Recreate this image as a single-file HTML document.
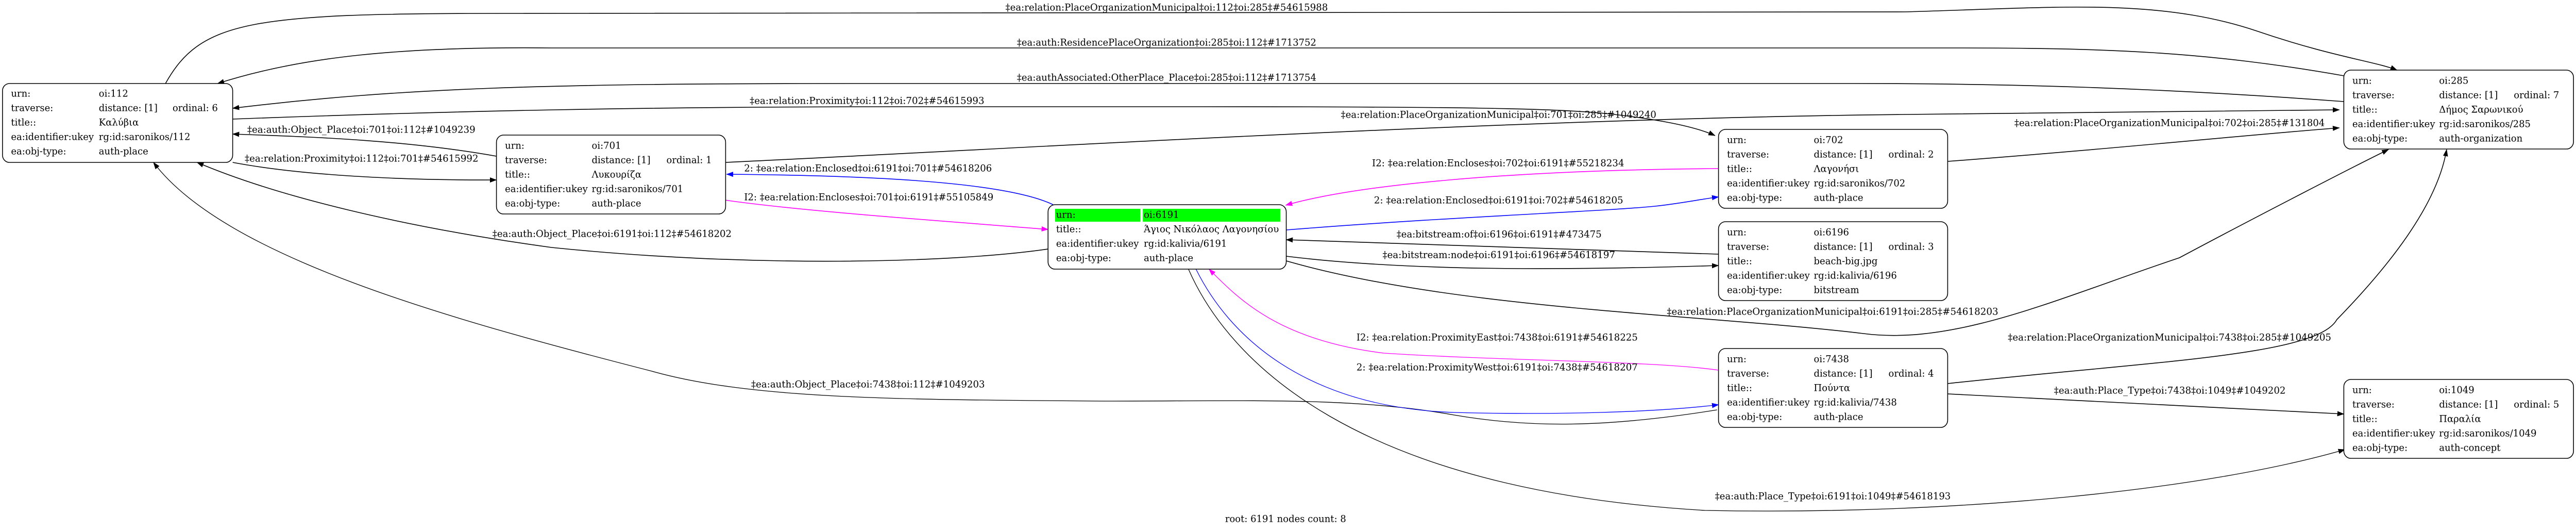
<!DOCTYPE html>
<html><head><meta charset="utf-8"><style>
html,body{margin:0;padding:0;background:#fff;overflow:hidden;width:100%;height:100%;}
svg{display:block;width:100vw;height:100vh;}
text{font-family:"DejaVu Serif","Liberation Serif",serif;font-size:18.5px;fill:#000;}
</style></head><body>
<svg viewBox="0 0 5137 1028" preserveAspectRatio="none" xmlns="http://www.w3.org/2000/svg">
<defs>
<marker id="ak" markerWidth="14" markerHeight="10" refX="13" refY="5" orient="auto" markerUnits="userSpaceOnUse"><path d="M0,0 L14,5 L0,10 z" fill="#000"/></marker>
<marker id="ab" markerWidth="14" markerHeight="10" refX="13" refY="5" orient="auto" markerUnits="userSpaceOnUse"><path d="M0,0 L14,5 L0,10 z" fill="#00f"/></marker>
<marker id="am" markerWidth="14" markerHeight="10" refX="13" refY="5" orient="auto" markerUnits="userSpaceOnUse"><path d="M0,0 L14,5 L0,10 z" fill="#f0f"/></marker>
</defs>
<g fill="none" stroke-width="1.6">
<path d="M330,162 C400,40 500,26 1000,26 L3800,23 C4100,15 4300,-5 4500,60 C4650,110 4740,120 4780,136" stroke="#000" marker-end="url(#ak)"/>
<path d="M4674,147 C4400,100 4200,93 3900,93 L1100,93 C800,90 600,110 434,162" stroke="#000" marker-end="url(#ak)"/>
<path d="M4674,197 C4300,170 4000,162 3700,162 L1700,162 C1100,162 800,170 464,210" stroke="#000" marker-end="url(#ak)"/>
<path d="M464,231 C900,215 1300,207 1800,207 L2400,207 C2900,207 3100,210 3200,220 C3300,230 3380,245 3420,263" stroke="#000" marker-end="url(#ak)"/>
<path d="M1447,315 C2000,290 3000,230 3800,222 L4665,213" stroke="#000" marker-end="url(#ak)"/>
<path d="M990,303 C800,270 600,265 464,260" stroke="#000" marker-end="url(#ak)"/>
<path d="M464,315 C600,340 800,350 990,349" stroke="#000" marker-end="url(#ak)"/>
<path d="M2100,397 C2000,350 1700,340 1449,338" stroke="#00f" marker-end="url(#ab)"/>
<path d="M1445,388 C1600,410 1900,430 2090,445" stroke="#f0f" marker-end="url(#am)"/>
<path d="M2090,483 C1900,510 1500,520 1100,480 C800,440 550,380 393,315" stroke="#000" marker-end="url(#ak)"/>
<path d="M3424,795 C3200,830 3050,830 2900,805 C2700,770 2500,778 2200,778 C1800,775 1500,775 1300,720 C900,620 450,500 306,315" stroke="#000" stroke-width="1.3" marker-end="url(#ak)"/>
<path d="M2385,522 C2450,650 2600,790 2900,800 C3100,805 3300,800 3427,785" stroke="#00f" stroke-width="1.3" marker-end="url(#ab)"/>
<path d="M3427,718 C3300,700 3000,700 2760,685 C2550,660 2470,580 2411,522" stroke="#f0f" stroke-width="1.3" marker-end="url(#am)"/>
<path d="M2370,522 C2450,700 2700,950 3400,990 C3900,1000 4400,950 4676,872" stroke="#000" stroke-width="1.3" marker-end="url(#ak)"/>
<path d="M2565,506 C2900,600 3400,610 3716,647 C3900,670 4100,580 4346,500 C4500,420 4700,320 4763,290" stroke="#000" marker-end="url(#ak)"/>
<path d="M3884,744 C4300,700 4620,690 4660,620 C4760,520 4860,400 4879,290" stroke="#000" marker-end="url(#ak)"/>
<path d="M3884,764 L4674,803" stroke="#000" marker-end="url(#ak)"/>
<path d="M3427,493 L2565,465" stroke="#000" marker-end="url(#ak)"/>
<path d="M2565,497 C2800,525 3100,525 3427,515" stroke="#000" marker-end="url(#ak)"/>
<path d="M3427,327 C3000,330 2700,360 2564,398" stroke="#f0f" marker-end="url(#am)"/>
<path d="M2565,446 C2900,420 3200,410 3300,400 C3350,395 3400,385 3427,382" stroke="#00f" marker-end="url(#ab)"/>
<path d="M3884,313 C4200,290 4500,260 4665,248" stroke="#000" marker-end="url(#ak)"/>
</g>
<g dominant-baseline="central">
<text x="2005" y="15" textLength="643" lengthAdjust="spacingAndGlyphs">‡ea:relation:PlaceOrganizationMunicipal‡oi:112‡oi:285‡#54615988</text>
<text x="2028" y="83" textLength="597" lengthAdjust="spacingAndGlyphs">‡ea:auth:ResidencePlaceOrganization‡oi:285‡oi:112‡#1713752</text>
<text x="2028" y="151" textLength="597" lengthAdjust="spacingAndGlyphs">‡ea:authAssociated:OtherPlace_Place‡oi:285‡oi:112‡#1713754</text>
<text x="1495" y="196" textLength="468" lengthAdjust="spacingAndGlyphs">‡ea:relation:Proximity‡oi:112‡oi:702‡#54615993</text>
<text x="2674" y="223" textLength="629" lengthAdjust="spacingAndGlyphs">‡ea:relation:PlaceOrganizationMunicipal‡oi:701‡oi:285‡#1049240</text>
<text x="493" y="252" textLength="455" lengthAdjust="spacingAndGlyphs">‡ea:auth:Object_Place‡oi:701‡oi:112‡#1049239</text>
<text x="488" y="308" textLength="466" lengthAdjust="spacingAndGlyphs">‡ea:relation:Proximity‡oi:112‡oi:701‡#54615992</text>
<text x="1484" y="327" textLength="494" lengthAdjust="spacingAndGlyphs">2: ‡ea:relation:Enclosed‡oi:6191‡oi:701‡#54618206</text>
<text x="1484" y="383" textLength="497" lengthAdjust="spacingAndGlyphs">I2: ‡ea:relation:Encloses‡oi:701‡oi:6191‡#55105849</text>
<text x="982" y="454" textLength="477" lengthAdjust="spacingAndGlyphs">‡ea:auth:Object_Place‡oi:6191‡oi:112‡#54618202</text>
<text x="1498" y="746" textLength="466" lengthAdjust="spacingAndGlyphs">‡ea:auth:Object_Place‡oi:7438‡oi:112‡#1049203</text>
<text x="2736" y="317" textLength="503" lengthAdjust="spacingAndGlyphs">I2: ‡ea:relation:Encloses‡oi:702‡oi:6191‡#55218234</text>
<text x="2740" y="389" textLength="497" lengthAdjust="spacingAndGlyphs">2: ‡ea:relation:Enclosed‡oi:6191‡oi:702‡#54618205</text>
<text x="2785" y="455" textLength="409" lengthAdjust="spacingAndGlyphs">‡ea:bitstream:of‡oi:6196‡oi:6191‡#473475</text>
<text x="2757" y="495" textLength="464" lengthAdjust="spacingAndGlyphs">‡ea:bitstream:node‡oi:6191‡oi:6196‡#54618197</text>
<text x="3324" y="605" textLength="661" lengthAdjust="spacingAndGlyphs">‡ea:relation:PlaceOrganizationMunicipal‡oi:6191‡oi:285‡#54618203</text>
<text x="2705" y="655" textLength="561" lengthAdjust="spacingAndGlyphs">I2: ‡ea:relation:ProximityEast‡oi:7438‡oi:6191‡#54618225</text>
<text x="2705" y="713" textLength="561" lengthAdjust="spacingAndGlyphs">2: ‡ea:relation:ProximityWest‡oi:6191‡oi:7438‡#54618207</text>
<text x="4004" y="655" textLength="645" lengthAdjust="spacingAndGlyphs">‡ea:relation:PlaceOrganizationMunicipal‡oi:7438‡oi:285‡#1049205</text>
<text x="4096" y="758" textLength="462" lengthAdjust="spacingAndGlyphs">‡ea:auth:Place_Type‡oi:7438‡oi:1049‡#1049202</text>
<text x="3420" y="963" textLength="470" lengthAdjust="spacingAndGlyphs">‡ea:auth:Place_Type‡oi:6191‡oi:1049‡#54618193</text>
<text x="4017" y="239" textLength="619" lengthAdjust="spacingAndGlyphs">‡ea:relation:PlaceOrganizationMunicipal‡oi:702‡oi:285‡#131804</text>
<text x="2443" y="1007">root: 6191 nodes count: 8</text>
</g>
<g fill="#fff" stroke="#000" stroke-width="1.6">
<rect x="5" y="162" width="459" height="153" rx="14"/>
<rect x="990" y="262" width="457" height="153" rx="14"/>
<rect x="2090" y="397" width="475" height="125" rx="14"/>
<rect x="3427" y="251" width="457" height="153" rx="14"/>
<rect x="3427" y="430" width="457" height="153" rx="14"/>
<rect x="3427" y="676" width="457" height="153" rx="14"/>
<rect x="4674" y="136" width="458" height="153" rx="14"/>
<rect x="4674" y="736" width="458" height="153" rx="14"/>
</g>
<rect x="2104" y="405" width="170" height="25" fill="#00ff00"/>
<rect x="2279" y="405" width="274" height="25" fill="#00ff00"/>
<g dominant-baseline="central">
<text x="22" y="182">urn:</text><text x="197" y="182">oi:112</text>
<text x="22" y="210">traverse:</text><text x="197" y="210">distance: [1]</text><text x="344" y="210">ordinal: 6</text>
<text x="22" y="238">title::</text><text x="197" y="238">Καλύβια</text>
<text x="22" y="266">ea:identifier:ukey</text><text x="197" y="266">rg:id:saronikos/112</text>
<text x="22" y="294">ea:obj-type:</text><text x="197" y="294">auth-place</text>
<text x="1007" y="283">urn:</text><text x="1180" y="283">oi:701</text>
<text x="1007" y="311">traverse:</text><text x="1180" y="311">distance: [1]</text><text x="1329" y="311">ordinal: 1</text>
<text x="1007" y="339">title::</text><text x="1180" y="339">Λυκουρίζα</text>
<text x="1007" y="367">ea:identifier:ukey</text><text x="1180" y="367">rg:id:saronikos/701</text>
<text x="1007" y="395">ea:obj-type:</text><text x="1180" y="395">auth-place</text>
<text x="2106" y="417">urn:</text><text x="2281" y="417">oi:6191</text>
<text x="2106" y="445">title::</text><text x="2281" y="445">Άγιος Νικόλαος Λαγονησίου</text>
<text x="2106" y="473">ea:identifier:ukey</text><text x="2281" y="473">rg:id:kalivia/6191</text>
<text x="2106" y="501">ea:obj-type:</text><text x="2281" y="501">auth-place</text>
<text x="3444" y="272">urn:</text><text x="3617" y="272">oi:702</text>
<text x="3444" y="300">traverse:</text><text x="3617" y="300">distance: [1]</text><text x="3766" y="300">ordinal: 2</text>
<text x="3444" y="328">title::</text><text x="3617" y="328">Λαγονήσι</text>
<text x="3444" y="356">ea:identifier:ukey</text><text x="3617" y="356">rg:id:saronikos/702</text>
<text x="3444" y="384">ea:obj-type:</text><text x="3617" y="384">auth-place</text>
<text x="3444" y="451">urn:</text><text x="3617" y="451">oi:6196</text>
<text x="3444" y="479">traverse:</text><text x="3617" y="479">distance: [1]</text><text x="3766" y="479">ordinal: 3</text>
<text x="3444" y="507">title::</text><text x="3617" y="507">beach-big.jpg</text>
<text x="3444" y="535">ea:identifier:ukey</text><text x="3617" y="535">rg:id:kalivia/6196</text>
<text x="3444" y="563">ea:obj-type:</text><text x="3617" y="563">bitstream</text>
<text x="3444" y="697">urn:</text><text x="3617" y="697">oi:7438</text>
<text x="3444" y="725">traverse:</text><text x="3617" y="725">distance: [1]</text><text x="3766" y="725">ordinal: 4</text>
<text x="3444" y="753">title::</text><text x="3617" y="753">Πούντα</text>
<text x="3444" y="781">ea:identifier:ukey</text><text x="3617" y="781">rg:id:kalivia/7438</text>
<text x="3444" y="809">ea:obj-type:</text><text x="3617" y="809">auth-place</text>
<text x="4691" y="157">urn:</text><text x="4864" y="157">oi:285</text>
<text x="4691" y="185">traverse:</text><text x="4864" y="185">distance: [1]</text><text x="5013" y="185">ordinal: 7</text>
<text x="4691" y="213">title::</text><text x="4864" y="213">Δήμος Σαρωνικού</text>
<text x="4691" y="241">ea:identifier:ukey</text><text x="4864" y="241">rg:id:saronikos/285</text>
<text x="4691" y="269">ea:obj-type:</text><text x="4864" y="269">auth-organization</text>
<text x="4691" y="757">urn:</text><text x="4864" y="757">oi:1049</text>
<text x="4691" y="785">traverse:</text><text x="4864" y="785">distance: [1]</text><text x="5013" y="785">ordinal: 5</text>
<text x="4691" y="813">title::</text><text x="4864" y="813">Παραλία</text>
<text x="4691" y="841">ea:identifier:ukey</text><text x="4864" y="841">rg:id:saronikos/1049</text>
<text x="4691" y="869">ea:obj-type:</text><text x="4864" y="869">auth-concept</text>
</g>
</svg>
</body></html>
